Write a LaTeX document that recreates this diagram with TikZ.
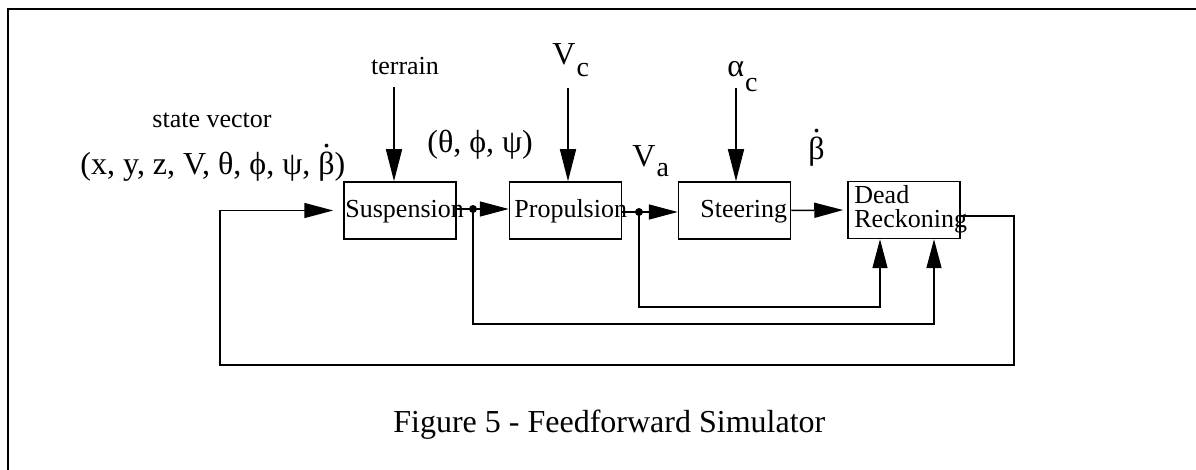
\documentclass[tikz,border=0pt]{standalone}
\usepackage{fontspec}
\setmainfont{Liberation Serif}
\usetikzlibrary{arrows.meta}

\newcommand{\lowsub}[2]{\kern0.5pt\raisebox{-#1}{\fontsize{14}{14}\selectfont #2}}
\newcommand{\betadot}{\ooalign{β\cr\hidewidth\raisebox{0.86em}{.}\hidewidth\cr}}

\tikzset{
    block/.style={draw, line width=0.75pt, minimum width=56pt, minimum height=28.5pt, inner sep=0pt},
    boxtext/.style={font=\fontsize{13}{13}\selectfont, inner sep=0pt, anchor=base west},
    lbl/.style={font=\fontsize{13}{13}\selectfont, inner sep=0pt, anchor=base},
    sym/.style={font=\fontsize{16}{16}\selectfont, inner sep=0pt, anchor=base west},
    wire/.style={line width=0.75pt},
    arr/.style={line width=0.75pt, -{Triangle[length=14.5pt,width=7.5pt]}},
    inarr/.style={line width=0.75pt, -{Triangle[length=16pt,width=8pt]}},
}

\begin{document}
\begin{tikzpicture}[x=0.5pt, y=-0.5pt]
    \useasboundingbox (0,0) rectangle (1196,470);
    \draw [line width=1.25pt]
        (8,470) |- (1196,9)
        ;

    % blocks
    \node [block] (susp) at (400,210.5) {};
    \node [block] (prop) at (565.5,210.5) {};
    \node [block] (steer) at (734.5,210.5) {};
    \node [block] (dr) at (904,210) {};
    \node [boxtext] (susptext) at (345,218) {Suspension};
    \node [boxtext] (proptext) at (514,218) {Propulsion};
    \node [boxtext] (steertext) at (700,218) {Steering};
    \node [boxtext] (deadtext) at (854,204) {Dead};
    \node [boxtext] (reckontext) at (854,228) {Reckoning};

    % labels
    \node [lbl] (terrainlbl) at (405,75) {terrain};
    \node [lbl] (statelbl) at (212,128) {state vector};
    \node [sym] (statevec) at (80,175) {(x, y, z, V, θ, ϕ, ψ, \betadot)};
    \node [sym] (anglelbl) at (427,153) {(θ, ϕ, ψ)};
    \node [sym] (vclbl) at (552,65) {V\lowsub{6pt}{c}};
    \node [sym] (aclbl) at (727,77) {α\lowsub{7.5pt}{c}};
    \node [sym] (valbl) at (632,167) {V\lowsub{5pt}{a}};
    \node [sym] (betalbl) at (808,160) {\betadot};
    \node [sym] (caption) at (393,433) {Figure 5 - Feedforward Simulator};

    \coordinate (terrainin) at (394,87);
    \coordinate (vcin) at (568,88);
    \coordinate (acin) at (736,88);
    \coordinate (split1) at (473,209);
    \coordinate (split2) at (639,212);
    \coordinate (loopin) at (880,307);
    \coordinate (loopout) at (934,324);
    \coordinate (fbtop) at (1014,216);
    \coordinate (fbright) at (1014,365);
    \coordinate (fbleft) at (220,365);

    % inputs
    \draw [inarr] (terrainin) -- (terrainin |- susp.north);
    \draw [inarr] (vcin) -- (vcin |- prop.north);
    \draw [inarr] (acin) -- (acin |- steer.north);

    % forward path
    \draw [wire] (susp.east |- split1) -- (split1);
    \draw [arr] (split1) -- (split1 -| prop.west);
    \draw [wire] (prop.east |- split2) -- (split2);
    \draw [arr] (split2) -- (split2 -| steer.west);
    \draw [arr, shorten >=2pt] (steer.east) -- (dr.west);
    \fill (split1) circle (2pt);
    \fill (split2) circle (2pt);

    % feed to dead reckoning
    \draw [arr] (split2) |- (loopin) -- (loopin |- dr.south);
    \draw [arr] (split1) |- (loopout) -- (loopout |- dr.south);

    % feedback
    \draw [arr, shorten >=5pt]
        (fbtop -| dr.east) -- (fbtop) -- (fbright) -- (fbleft) |- (susp.west)
        ;
\end{tikzpicture}
\end{document}
